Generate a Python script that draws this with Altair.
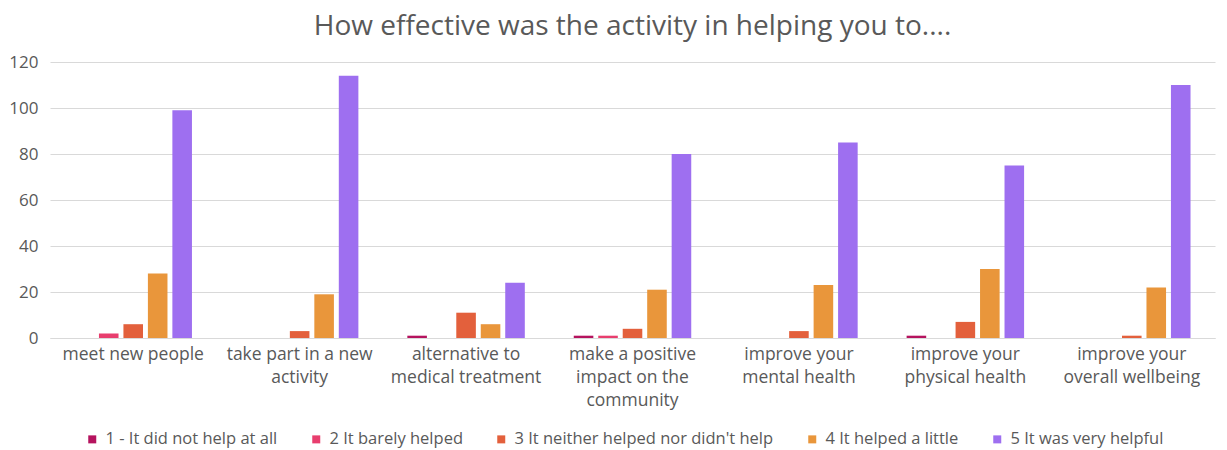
import altair as alt
import pandas as pd

categories = [
    "meet new people",
    "take part in a new|activity",
    "alternative to|medical treatment",
    "make a positive|impact on the|community",
    "improve your|mental health",
    "improve your|physical health",
    "improve your|overall wellbeing",
]
responses = [
    "1 - It did not help at all",
    "2 It barely helped",
    "3 It neither helped nor didn't help",
    "4 It helped a little",
    "5 It was very helpful",
]
colors = ["#b5135e", "#e83e6e", "#e3603c", "#e9963b", "#9e6ff0"]

r1 = [0, 0, 1, 1, 0, 1, 0]
r2 = [2, 0, 0, 1, 0, 0, 0]
r3 = [6, 3, 11, 4, 3, 7, 1]
r4 = [28, 19, 6, 21, 23, 30, 22]
r5 = [99, 114, 24, 80, 85, 75, 110]

series = [r1, r2, r3, r4, r5]
rows = []
for resp, vals in zip(responses, series):
    for cat, v in zip(categories, vals):
        rows.append({"category": cat, "response": resp, "value": v})
df = pd.DataFrame(rows)

FONT = "Open Sans"
GREY = "#595959"

chart = alt.Chart(df).mark_bar().encode(
    x=alt.X("category:N", sort=categories,
            scale=alt.Scale(paddingInner=0, paddingOuter=0),
            axis=alt.Axis(title=None, labelAngle=0, labelExpr="split(datum.label, '|')",
                          labelFontSize=17.5, labelColor=GREY, labelFont=FONT,
                          labelPadding=7, labelLineHeight=23, ticks=False,
                          labelLimit=0, labelOverlap=False,
                          domainColor="#d9d9d9", labelBaseline="top")),
    xOffset=alt.XOffset("response:N", sort=responses,
                        scale=alt.Scale(paddingInner=0.2, paddingOuter=1)),
    y=alt.Y("value:Q", scale=alt.Scale(domain=[0, 120]),
            axis=alt.Axis(title=None, values=[0, 20, 40, 60, 80, 100, 120],
                          labelFontSize=17, labelColor=GREY, labelFont=FONT,
                          labelPadding=12, ticks=False, domain=False,
                          gridColor="#d9d9d9")),
    color=alt.Color("response:N", sort=responses,
                    scale=alt.Scale(domain=responses, range=colors),
                    legend=alt.Legend(title=None, orient="none", direction="horizontal",
                                      legendX=34, legendY=369, symbolType="square",
                                      symbolSize=64, symbolStrokeWidth=0,
                                      labelFontSize=16.5, labelColor=GREY, labelFont=FONT,
                                      labelLimit=0, columnPadding=30, labelOffset=5)),
).properties(
    width=1165,
    height=276,
    autosize=alt.AutoSizeParams(type="none"),
    padding={"left": 42, "top": 54, "right": 4, "bottom": 120},
    title=alt.TitleParams("How effective was the activity in helping you to....",
                          fontSize=28, font=FONT, fontWeight="normal", color=GREY,
                          anchor="middle", offset=12),
).configure_view(stroke=None)

chart.save("out.html", embed_options={"renderer": "svg", "actions": False})
